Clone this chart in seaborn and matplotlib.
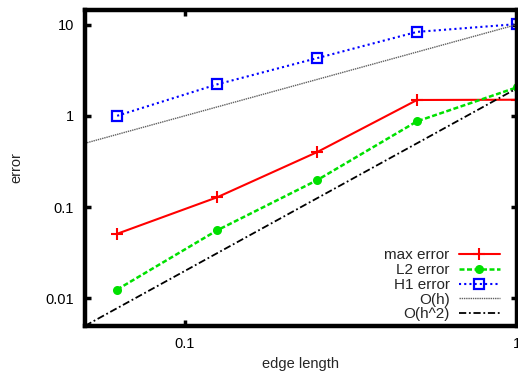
import matplotlib
matplotlib.use("Agg")
import matplotlib.pyplot as plt
import matplotlib.ticker as mticker
import seaborn as sns

# data
edge_length = [0.0625, 0.125, 0.25, 0.5, 1.0]
max_error = [0.051, 0.128, 0.40, 1.49, 1.50]
l2_error = [0.0125, 0.0556, 0.197, 0.87, 2.05]
h1_error = [1.0, 2.21, 4.28, 8.3, 10.1]
ref_x = [0.05, 1.0]
o_h = [0.5, 10.0]
o_h2 = [0.005, 2.0]

x_ticks = [0.1, 1.0]
y_ticks = [0.01, 0.1, 1, 10]

sns.set_style("white")
plt.rcParams["font.family"] = ["Liberation Sans", "DejaVu Sans"]
plt.rcParams["font.size"] = 10.5

fig = plt.figure(figsize=(5.18, 3.72), dpi=100)
ax = fig.add_axes([0.164, 0.124, 0.834, 0.849])

sns.lineplot(x=edge_length, y=max_error, ax=ax, color="red", lw=1.5,
             marker="+", markersize=8, markeredgewidth=1.5,
             markeredgecolor="red", label="max error")
sns.lineplot(x=edge_length, y=l2_error, ax=ax, color="#00e000", lw=1.8,
             linestyle=(0, (2, 1)), marker="o", markersize=6.5,
             markeredgewidth=0, markeredgecolor="#00e000", label="L2 error")
sns.lineplot(x=edge_length, y=h1_error, ax=ax, color="blue", lw=1.5,
             linestyle=(0, (1, 1.5)), marker="s", markersize=7,
             markerfacecolor="none", markeredgewidth=1.6,
             markeredgecolor="blue", label="H1 error")
sns.lineplot(x=ref_x, y=o_h, ax=ax, color="#606060", lw=1.0,
             linestyle=(0, (1, 0.6)), label="O(h)")
sns.lineplot(x=ref_x, y=o_h2, ax=ax, color="black", lw=1.3,
             linestyle=(0, (4, 1.5, 1, 1.5)), label="O(h^2)")

ax.set_xscale("log")
ax.set_yscale("log")
ax.set_xlim(0.05, 1.0)
ax.set_ylim(0.005, 14.4)
ax.set_xticks(x_ticks)
ax.set_yticks(y_ticks)
fmt = mticker.FuncFormatter(lambda v, p: "%g" % v)
ax.xaxis.set_major_formatter(fmt)
ax.yaxis.set_major_formatter(fmt)
ax.xaxis.set_minor_locator(mticker.NullLocator())
ax.yaxis.set_minor_locator(mticker.NullLocator())
ax.tick_params(which="major", direction="in", length=4, width=2.5,
               top=True, right=True, bottom=True, left=True, pad=8,
               labelsize=10.5, colors="black")

for s in ax.spines.values():
    s.set_linewidth(3.2)
    s.set_color("black")

ax.set_xlabel("edge length", fontsize=10.5, labelpad=4)
ax.set_ylabel("error", fontsize=10.5, labelpad=16)

leg = ax.legend(loc="lower right", bbox_to_anchor=(0.961, 0.014), frameon=False,
                markerfirst=False, handlelength=2.7, handletextpad=0.6,
                labelspacing=0.05, fontsize=11, borderaxespad=0, borderpad=0)

fig.savefig("out.png", dpi=100)
